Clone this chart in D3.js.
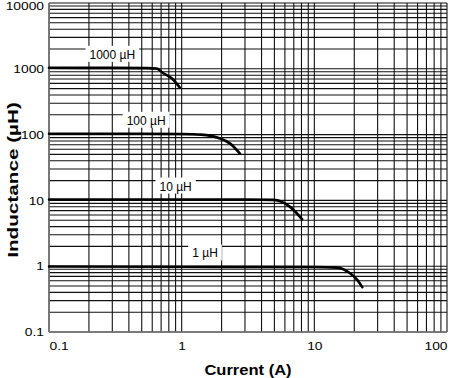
<!DOCTYPE html>
<html>
<head>
<meta charset="utf-8">
<script src="https://cdn.jsdelivr.net/npm/d3@7"></script>
<style>
	html, body { margin: 0; padding: 0; background: #fff; }
	svg { display: block; font-family: "Liberation Sans", Arial, sans-serif; }
</style>
</head>
<body>
<div id="chart"></div>
<script>
	// tick labels
	var xTicks = [0.1, 1, 10, 100];
	var yTicks = [0.1, 1, 10, 100, 1000, 10000];

	// curves
	var names = ["1000 µH", "100 µH", "10 µH", "1 µH"];
	var current1000 = [0.1, 0.3, 0.55, 0.65, 0.72, 0.85, 0.97];
	var induct1000 = [1035, 1032, 1025, 1005, 870, 705, 515];
	var current100 = [0.1, 0.5, 1.0, 1.4, 1.95, 2.32, 2.75];
	var induct100 = [103, 103, 102, 100, 87, 73, 51.5];
	var current10 = [0.1, 1, 3, 4.9, 5.7, 6.6, 8.1];
	var induct10 = [10.3, 10.3, 10.3, 10.2, 9.5, 7.9, 5.15];
	var current1 = [0.1, 1, 10, 14.9, 18.6, 21.2, 23];
	var induct1 = [0.99, 0.98, 0.97, 0.95, 0.78, 0.61, 0.48];
	// current where each curve label sits
	var labelCurrent = [0.3, 0.54, 0.9, 1.5];

	var series = [
		d3.zip(current1000, induct1000),
		d3.zip(current100, induct100),
		d3.zip(current10, induct10),
		d3.zip(current1, induct1),
	];

	var width = 450, height = 378;
	var margin = {left: 49, right: 3, top: 3, bottom: 46};

	var svg = d3.select("#chart").append("svg")
		.attr("width", width)
		.attr("height", height);

	var x = d3.scaleLog().domain([0.1, 100]).range([margin.left, width - margin.right]);
	var y = d3.scaleLog().domain([0.1, 10000]).range([height - margin.bottom, margin.top]);

	// the original lettering is drawn wider than the font: stretch it
	function stretch(sel, factor){
		sel.each(function(){
			let w = this.getComputedTextLength();
			d3.select(this)
				.attr("textLength", w * factor)
				.attr("lengthAdjust", "spacingAndGlyphs");
		});
	}

	// minor grid values 1..9 per decade
	function gridValues(lo, hi){
		var out = [];
		for(let d = lo; d < hi; d *= 10)
			for(let k = 1; k < 10; k++)
				out.push(d * k);
		out.push(hi);
		return out;
	}

	var grid = svg.append("g").attr("stroke", "#111").attr("stroke-width", 1.1);
	grid.selectAll("line.v")
		.data(gridValues(0.1, 100))
		.join("line")
		.attr("class", "v")
		.attr("x1", d => x(d)).attr("x2", d => x(d))
		.attr("y1", y.range()[0]).attr("y2", y.range()[1]);
	grid.selectAll("line.h")
		.data(gridValues(0.1, 10000))
		.join("line")
		.attr("class", "h")
		.attr("y1", d => y(d)).attr("y2", d => y(d))
		.attr("x1", x.range()[0]).attr("x2", x.range()[1]);

	// axis lines
	svg.append("line")
		.attr("x1", x.range()[0]).attr("x2", x.range()[0])
		.attr("y1", y.range()[0]).attr("y2", y.range()[1])
		.attr("stroke", "#777").attr("stroke-width", 1.5);
	svg.append("line")
		.attr("x1", x.range()[0]).attr("x2", x.range()[1])
		.attr("y1", y.range()[0]).attr("y2", y.range()[0])
		.attr("stroke", "#777").attr("stroke-width", 1.5);

	// curves
	var line = d3.line()
		.x(d => x(d[0]))
		.y(d => y(d[1]))
		.curve(d3.curveMonotoneX);

	svg.append("g")
		.selectAll("path")
		.data(series)
		.join("path")
		.attr("d", line)
		.attr("fill", "none")
		.attr("stroke", "#000")
		.attr("stroke-width", 2.6)
		.attr("stroke-linecap", "round");

	// curve labels with white boxes
	var labels = svg.append("g");
	names.forEach(function(name, i){
		var cx = x(labelCurrent[i]);
		var cy = y(series[i][0][1]) - 9;
		var g = labels.append("g");
		var rect = g.append("rect").attr("fill", "#fff");
		var t = g.append("text")
			.attr("x", cx)
			.attr("y", cy)
			.attr("text-anchor", "middle")
			.style("font-size", "12px")
			.text(name);
		var b = t.node().getBBox();
		rect.attr("x", b.x - 4).attr("y", b.y - 2)
			.attr("width", b.width + 8).attr("height", b.height + 2);
	});

	// x axis
	var xAxis = svg.append("g")
		.attr("transform", `translate(0,${y.range()[0]})`)
		.call(d3.axisBottom(x).tickValues(xTicks).tickSize(0).tickPadding(10).tickFormat(d3.format("~g")));
	xAxis.select(".domain").remove();
	xAxis.selectAll("text")
		.style("font-size", "11.5px")
		.style("font-family", "Liberation Sans, Arial, sans-serif")
		.attr("fill", "#000")
		.attr("text-anchor", (d, i) => i === 0 ? "start" : i === xTicks.length - 1 ? "end" : "middle")
		.call(stretch, 1.2);

	// y axis
	var yAxis = svg.append("g")
		.attr("transform", `translate(${x.range()[0]},0)`)
		.call(d3.axisLeft(y).tickValues(yTicks).tickSize(0).tickPadding(5).tickFormat(d3.format("~g")));
	yAxis.select(".domain").remove();
	yAxis.selectAll("text")
		.style("font-size", "11.5px")
		.style("font-family", "Liberation Sans, Arial, sans-serif")
		.attr("fill", "#000")
		.attr("dy", d => d === 10000 ? "0.6em" : "0.32em")
		.call(stretch, 1.2);

	// axis titles
	svg.append("text")
		.attr("x", 248)
		.attr("y", 375)
		.attr("text-anchor", "middle")
		.style("font-size", "14px")
		.style("font-weight", "bold")
		.text("Current (A)")
		.call(stretch, 1.18);

	svg.append("text")
		.attr("transform", "translate(18,180) rotate(-90)")
		.attr("text-anchor", "middle")
		.style("font-size", "15px")
		.style("font-weight", "bold")
		.text("Inductance (µH)")
		.call(stretch, 1.38);
</script>
</body>
</html>
